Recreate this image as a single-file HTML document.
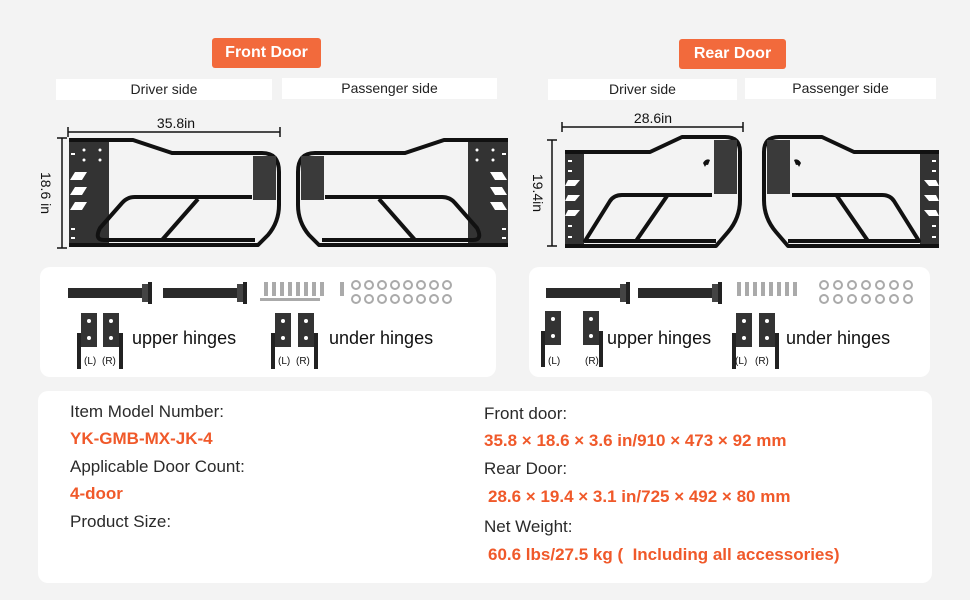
<!DOCTYPE html>
<html><head><meta charset="utf-8"><style>
body{margin:0;width:970px;height:600px;background:#f3f3f3;position:relative;overflow:hidden;font-family:"Liberation Sans",sans-serif;}
.a{position:absolute}
.pill{background:#f26a3c;color:#fff;font-size:16px;font-weight:bold;text-align:center;line-height:30px;border-radius:3px}
.hd{background:#fff;font-size:14px;color:#222;text-align:center;line-height:21px}
.panel{background:#fff;border-radius:10px}
.t{font-size:17px;color:#2a2a2a;white-space:nowrap}
.o{font-size:17px;color:#f0592a;font-weight:bold;white-space:nowrap}
</style></head><body>
<div class="a pill" style="left:212px;top:38px;width:109px;height:30px">Front Door</div>
<div class="a pill" style="left:679px;top:39px;width:107px;height:30px">Rear Door</div>
<div class="a hd" style="left:56px;top:79px;width:216px;height:21px">Driver side</div>
<div class="a hd" style="left:282px;top:78px;width:215px;height:21px">Passenger side</div>
<div class="a hd" style="left:548px;top:79px;width:189px;height:21px">Driver side</div>
<div class="a hd" style="left:745px;top:78px;width:191px;height:21px">Passenger side</div>
<div class="a panel" style="left:40px;top:267px;width:456px;height:110px"></div>
<div class="a panel" style="left:529px;top:267px;width:401px;height:110px"></div>
<div class="a panel" style="left:38px;top:391px;width:894px;height:192px"></div>

<svg class="a" style="left:0;top:0" width="970" height="600" xmlns="http://www.w3.org/2000/svg">
<defs>
<g id="fd">
 <rect x="69" y="140" width="40" height="106" fill="#333"/>
 <path d="M69 140 H133 L172 153 H262 Q279 153 279 172 V205 Q279 222 268 235 L258 245 H69" fill="none" stroke="#111" stroke-width="4" stroke-linejoin="round"/>
 <path d="M253 156 H276 V200 H253 Z" fill="#3a3a3a"/>
 <path d="M252 197 H135 Q127 197 122 203 L100 228 Q94 240 104 240 H255 M198 199 L162 240" fill="none" stroke="#111" stroke-width="4" stroke-linejoin="round"/>
 <path d="M75 172 h12 l-5 8 h-12z M75 187 h12 l-5 8 h-12z M75 202 h12 l-5 8 h-12z" fill="#fff"/>
 <circle cx="84" cy="150" r="1.5" fill="#fff"/><circle cx="100" cy="150" r="1.5" fill="#fff"/><circle cx="84" cy="160" r="1.5" fill="#fff"/><circle cx="100" cy="160" r="1.5" fill="#fff"/>
 <rect x="71" y="153" width="4" height="2" fill="#fff"/><rect x="71" y="228" width="4" height="2" fill="#fff"/><rect x="71" y="237" width="4" height="2" fill="#fff"/>
</g>
<g id="rd">
 <rect x="565" y="152" width="19" height="96" fill="#333"/>
 <path d="M565 152 H650 L682 137 H725 Q740 137 740 152 V200 Q740 218 728 232 L716 246 H565" fill="none" stroke="#111" stroke-width="4" stroke-linejoin="round"/>
 <path d="M714 140 H737 V194 H714 Z" fill="#3a3a3a"/>
 <path d="M712 195 H622 Q614 195 610 201 L585 241 H716 M667 196 L636 241" fill="none" stroke="#111" stroke-width="4" stroke-linejoin="round"/>
 <path d="M568 180 h12 l-5 6 h-10z M568 195 h12 l-5 6 h-10z M568 210 h12 l-5 6 h-10z" fill="#fff"/>
 <rect x="568" y="160" width="4" height="2" fill="#fff"/><rect x="568" y="170" width="4" height="2" fill="#fff"/><rect x="568" y="225" width="4" height="2" fill="#fff"/><rect x="568" y="236" width="4" height="2" fill="#fff"/>
 <path d="M703 163 q3 -5 7 -3 l-2 5 q-2 -1 -3 2z" fill="#111"/>
</g>
<g id="strap"><rect x="0" y="0" width="75" height="10" fill="#2a2a2a"/><rect x="74" y="-4" width="8" height="18" fill="#444"/><rect x="80" y="-6" width="4" height="22" fill="#222"/></g>
<g id="hinge"><rect x="0" y="0" width="16" height="34" fill="#333"/><circle cx="8" cy="8" r="2" fill="#fff"/><circle cx="8" cy="25" r="2" fill="#fff"/><rect x="-4" y="20" width="4" height="36" fill="#222"/></g>
</defs>
<use href="#fd"/>
<use href="#fd" transform="translate(577 0) scale(-1 1)"/>
<use href="#rd"/>
<use href="#rd" transform="translate(1504 0) scale(-1 1)"/>
<g stroke="#111" stroke-width="1.5">
<line x1="68" y1="132" x2="280" y2="132"/><line x1="68" y1="127" x2="68" y2="137"/><line x1="280" y1="127" x2="280" y2="137"/>
<line x1="62" y1="138" x2="62" y2="248"/><line x1="57" y1="138" x2="67" y2="138"/><line x1="57" y1="248" x2="67" y2="248"/>
<line x1="562" y1="127" x2="743" y2="127"/><line x1="562" y1="122" x2="562" y2="132"/><line x1="743" y1="122" x2="743" y2="132"/>
<line x1="552" y1="140" x2="552" y2="246"/><line x1="547" y1="140" x2="557" y2="140"/><line x1="547" y1="246" x2="557" y2="246"/>
</g>
<text x="176" y="128" font-size="14" text-anchor="middle" fill="#111" font-family="Liberation Sans">35.8in</text>
<text x="653" y="123" font-size="14" text-anchor="middle" fill="#111" font-family="Liberation Sans">28.6in</text>
<text transform="translate(41 193) rotate(90)" font-size="14" text-anchor="middle" fill="#111" font-family="Liberation Sans">18.6 in</text>
<text transform="translate(533 193) rotate(90)" font-size="14" text-anchor="middle" fill="#111" font-family="Liberation Sans">19.4in</text>
<use href="#strap" transform="translate(68 288)"/><use href="#strap" transform="translate(163 288)"/>
<use href="#strap" transform="translate(546 288)"/><use href="#strap" transform="translate(638 288)"/>
<g fill="#aaa">
<rect x="264" y="282" width="4" height="14"/><rect x="272" y="282" width="4" height="14"/><rect x="280" y="282" width="4" height="14"/><rect x="288" y="282" width="4" height="14"/><rect x="296" y="282" width="4" height="14"/><rect x="304" y="282" width="4" height="14"/><rect x="312" y="282" width="4" height="14"/><rect x="320" y="282" width="4" height="14"/><rect x="340" y="282" width="4" height="14"/>
<rect x="260" y="298" width="60" height="3"/>
<rect x="737" y="282" width="4" height="14"/><rect x="745" y="282" width="4" height="14"/><rect x="753" y="282" width="4" height="14"/><rect x="761" y="282" width="4" height="14"/><rect x="769" y="282" width="4" height="14"/><rect x="777" y="282" width="4" height="14"/><rect x="785" y="282" width="4" height="14"/><rect x="793" y="282" width="4" height="14"/>
</g>
<g fill="none" stroke="#aaa" stroke-width="2">
<circle cx="356" cy="285" r="4"/><circle cx="369" cy="285" r="4"/><circle cx="382" cy="285" r="4"/><circle cx="395" cy="285" r="4"/><circle cx="408" cy="285" r="4"/><circle cx="421" cy="285" r="4"/><circle cx="434" cy="285" r="4"/><circle cx="447" cy="285" r="4"/>
<circle cx="356" cy="299" r="4"/><circle cx="369" cy="299" r="4"/><circle cx="382" cy="299" r="4"/><circle cx="395" cy="299" r="4"/><circle cx="408" cy="299" r="4"/><circle cx="421" cy="299" r="4"/><circle cx="434" cy="299" r="4"/><circle cx="447" cy="299" r="4"/>
<circle cx="824" cy="285" r="4"/><circle cx="838" cy="285" r="4"/><circle cx="852" cy="285" r="4"/><circle cx="866" cy="285" r="4"/><circle cx="880" cy="285" r="4"/><circle cx="894" cy="285" r="4"/><circle cx="908" cy="285" r="4"/>
<circle cx="824" cy="299" r="4"/><circle cx="838" cy="299" r="4"/><circle cx="852" cy="299" r="4"/><circle cx="866" cy="299" r="4"/><circle cx="880" cy="299" r="4"/><circle cx="894" cy="299" r="4"/><circle cx="908" cy="299" r="4"/>
</g>
<use href="#hinge" transform="translate(81 313)"/><use href="#hinge" transform="translate(119 313) scale(-1 1)"/>
<use href="#hinge" transform="translate(275 313)"/><use href="#hinge" transform="translate(314 313) scale(-1 1)"/>
<use href="#hinge" transform="translate(545 311)"/><use href="#hinge" transform="translate(599 311) scale(-1 1)"/>
<use href="#hinge" transform="translate(736 313)"/><use href="#hinge" transform="translate(775 313) scale(-1 1)"/>
<g font-family="Liberation Sans" font-size="10" fill="#111">
<text x="84" y="364">(L)</text><text x="102" y="364">(R)</text>
<text x="278" y="364">(L)</text><text x="296" y="364">(R)</text>
<text x="548" y="364">(L)</text><text x="585" y="364">(R)</text>
<text x="735" y="364">(L)</text><text x="755" y="364">(R)</text>
</g>
<g font-family="Liberation Sans" font-size="18" fill="#111">
<text x="132" y="344">upper hinges</text><text x="329" y="344">under hinges</text>
<text x="607" y="344">upper hinges</text><text x="786" y="344">under hinges</text>
</g>
</svg>

<div class="a t" style="left:70px;top:402px">Item Model Number:</div>
<div class="a o" style="left:70px;top:429px">YK-GMB-MX-JK-4</div>
<div class="a t" style="left:70px;top:457px">Applicable Door Count:</div>
<div class="a o" style="left:70px;top:484px">4-door</div>
<div class="a t" style="left:70px;top:512px">Product Size:</div>
<div class="a t" style="left:484px;top:404px">Front door:</div>
<div class="a o" style="left:484px;top:431px">35.8 × 18.6 × 3.6 in/910 × 473 × 92 mm</div>
<div class="a t" style="left:484px;top:459px">Rear Door:</div>
<div class="a o" style="left:488px;top:487px">28.6 × 19.4 × 3.1 in/725 × 492 × 80 mm</div>
<div class="a t" style="left:484px;top:517px">Net Weight:</div>
<div class="a o" style="left:488px;top:545px">60.6 lbs/27.5 kg (&nbsp; Including all accessories)</div>
</body></html>
